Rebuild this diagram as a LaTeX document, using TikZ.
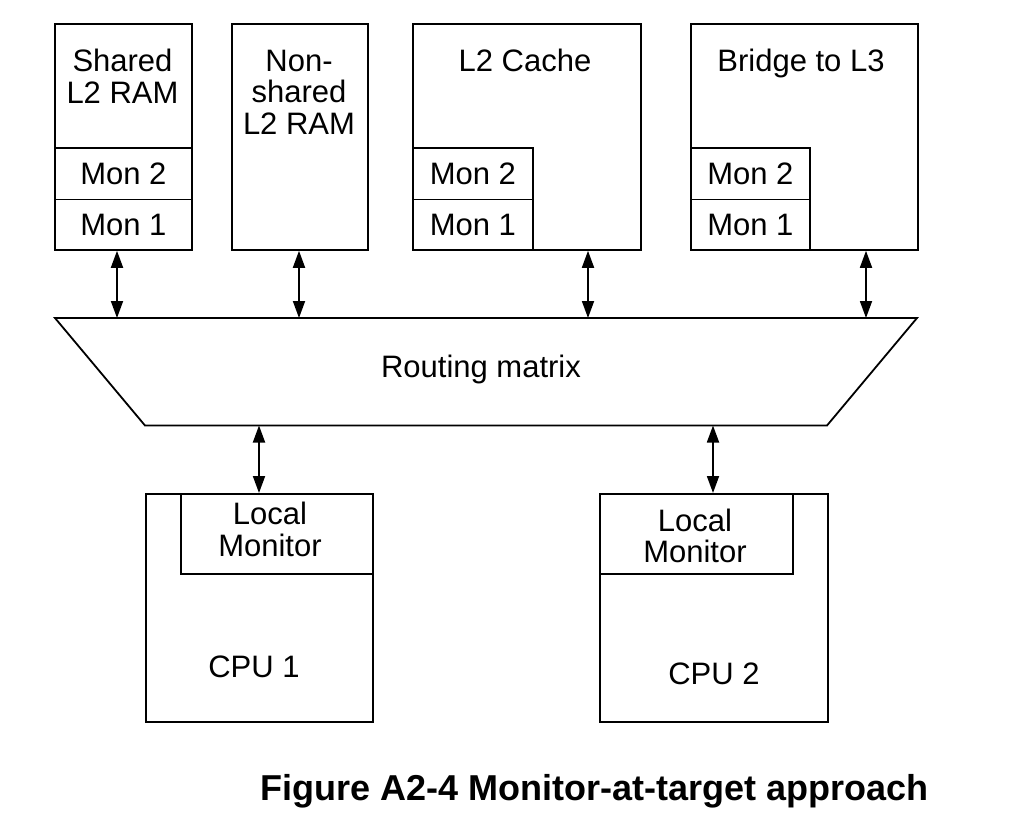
\documentclass[tikz,border=0pt]{standalone}
\usepackage{fontspec}
\setmainfont{Liberation Sans}
\usetikzlibrary{arrows.meta}
\begin{document}
\begin{tikzpicture}[x=1pt,y=-1pt,
  box/.style={draw, line width=1.8pt, inner sep=0pt, anchor=north west},
  lbl/.style={inner sep=0pt, align=center, font=\fontsize{31}{31.6}\selectfont},
  biarrow/.style={line width=1.8pt, {Triangle[width=12pt,length=17pt]}-{Triangle[width=12pt,length=17pt]}}]
\useasboundingbox (0,0) rectangle (1020,824);
% top boxes
\node[box, minimum width=137pt, minimum height=226pt] (sram) at (54,23) {};
\node[box, minimum width=137pt, minimum height=51.5pt] (sm2) at (54,147) {};
\node[box, minimum width=137pt, minimum height=50.5pt] (sm1) at (54,198.5) {};
\node[box, minimum width=136pt, minimum height=226pt] (nsram) at (231,23) {};
\node[box, minimum width=228pt, minimum height=226pt] (l2c) at (412,23) {};
\node[box, minimum width=120pt, minimum height=51.5pt] (cm2) at (412,147) {};
\node[box, minimum width=120pt, minimum height=50.5pt] (cm1) at (412,198.5) {};
\node[box, minimum width=227pt, minimum height=226pt] (brg) at (690,23) {};
\node[box, minimum width=119pt, minimum height=51.5pt] (bm2) at (690,147) {};
\node[box, minimum width=119pt, minimum height=50.5pt] (bm1) at (690,198.5) {};
% labels top
\node[lbl] (tsram) at (122.5,76.4) {Shared\\L2 RAM};
\node[lbl] (tsm2) at (sm2.center) {Mon 2};
\node[lbl] (tsm1) at (sm1.center) {Mon 1};
\node[lbl] (tnsram) at (299,92) {Non-\\shared\\L2 RAM};
\node[lbl] (tl2c) at (525,60.5) {L2 Cache};
\node[lbl] (tcm2) at (cm2.center) {Mon 2};
\node[lbl] (tcm1) at (cm1.center) {Mon 1};
\node[lbl] (tbrg) at (801,63.8) {Bridge to L3};
\node[lbl] (tbm2) at (bm2.center) {Mon 2};
\node[lbl] (tbm1) at (bm1.center) {Mon 1};
% routing matrix
\coordinate (rtl) at (55,318);
\coordinate (rtr) at (917,318);
\coordinate (rbr) at (827,425.5);
\coordinate (rbl) at (145,425.5);
\draw[line width=1.8pt, line join=miter] (rtl) -- (rtr) -- (rbr) -- (rbl) -- cycle;
\node[lbl] (rm) at (481,369) {Routing matrix};
% cpus
\node[box, minimum width=227pt, minimum height=228pt] (cpu1) at (145,493) {};
\node[box, minimum width=192pt, minimum height=80pt] (lm1) at (180,493) {};
\node[box, minimum width=228pt, minimum height=228pt] (cpu2) at (599,493) {};
\node[box, minimum width=193pt, minimum height=80pt] (lm2) at (599,493) {};
\node[lbl] (tlm1) at (270,529.7) {Local\\Monitor};
\node[lbl] (tlm2) at (695,536) {Local\\Monitor};
\node[lbl] (tcpu1) at (254,666.8) {CPU 1};
\node[lbl] (tcpu2) at (714,673.8) {CPU 2};
% arrows
\coordinate (t1) at (117,318);
\coordinate (t2) at (299,318);
\coordinate (t3) at (588,318);
\coordinate (t4) at (866,318);
\draw[biarrow] (t1 |- sram.south) -- (t1);
\draw[biarrow] (t2 |- nsram.south) -- (t2);
\draw[biarrow] (t3 |- l2c.south) -- (t3);
\draw[biarrow] (t4 |- brg.south) -- (t4);
\coordinate (b1) at (259,425.5);
\coordinate (b2) at (713,425.5);
\draw[biarrow] (b1) -- (b1 |- cpu1.north);
\draw[biarrow] (b2) -- (b2 |- cpu2.north);
% caption
\node[inner sep=0pt, font=\fontsize{36}{40}\selectfont\bfseries] (cap) at (594.5,790.8) {Figure A2-4 Monitor-at-target approach};
\end{tikzpicture}
\end{document}
